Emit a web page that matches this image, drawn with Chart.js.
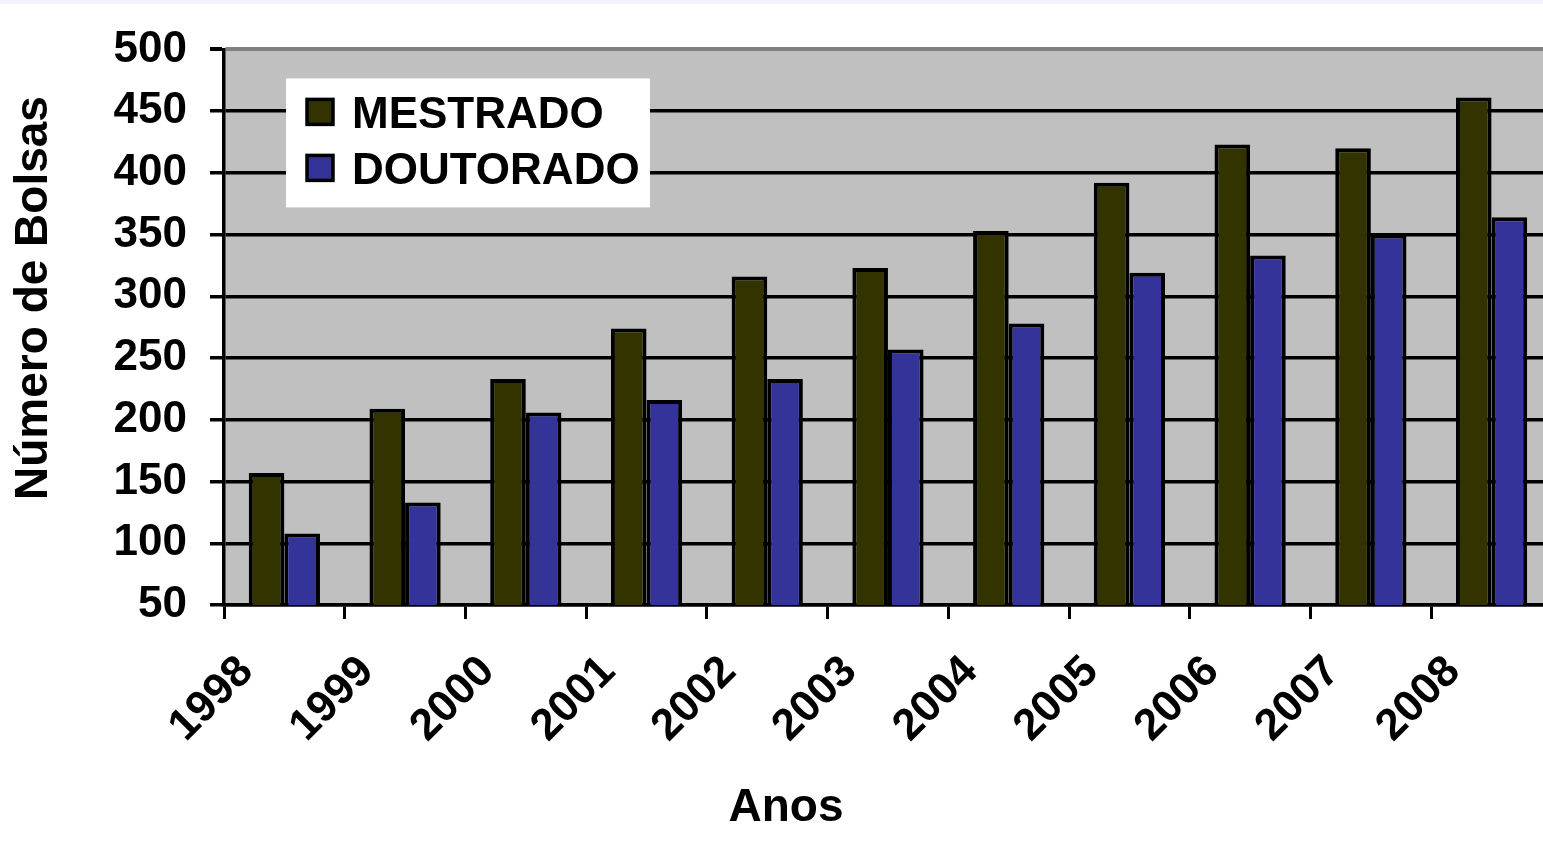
<!DOCTYPE html>
<html>
<head>
<meta charset="utf-8">
<script src="https://cdn.jsdelivr.net/npm/chart.js@4.4.0/dist/chart.umd.min.js"></script>
<style>
    html, body { margin: 0; padding: 0; background: #ffffff; overflow: hidden; }
    #strip { position: absolute; left: 0; top: 0; width: 1543px; height: 4px; background: #f2f3fb; }
    canvas { display: block; }
</style>
</head>
<body>
<div id="strip"></div>
<canvas id="bolsasChart" width="1556" height="853"></canvas>
<script>
// Datas
const anos = ['1998', '1999', '2000', '2001', '2002', '2003', '2004', '2005', '2006', '2007', '2008']
const mestrado = [157, 209, 233, 274, 316, 323, 353, 392, 423, 420, 461]
const doutorado = [108, 133, 206, 216, 233, 257, 278, 319, 333, 350, 364]
const yMin = 50
const yMax = 500
const yStep = 50

const fontFamily = '"Liberation Sans", Arial, sans-serif'

// Plot area background (gray like the old Excel charts)
const plotBackground = {
    id: 'plotBackground',
    beforeDraw: (chart) => {
        const { ctx, chartArea } = chart
        ctx.save()
        ctx.fillStyle = '#c0c0c0'
        ctx.fillRect(chartArea.left, chartArea.top, chartArea.right - chartArea.left, chartArea.bottom - chartArea.top)
        ctx.restore()
    }
}

// Legend box inside the plot + axis titles
const extras = {
    id: 'extras',
    afterDraw: (chart) => {
        const { ctx, chartArea } = chart
        ctx.save()

        const boxX = chartArea.left + 62
        const boxY = chartArea.top + 29
        ctx.fillStyle = '#ffffff'
        ctx.fillRect(boxX, boxY, 364, 129)

        ctx.font = `bold 44px ${fontFamily}`
        ctx.textAlign = 'left'
        ctx.textBaseline = 'alphabetic'
        chart.data.datasets.forEach((ds, i) => {
            const sy = boxY + 20 + i * 56
            ctx.fillStyle = ds.backgroundColor
            ctx.fillRect(boxX + 21, sy + 1, 26, 25)
            ctx.lineWidth = 3.5
            ctx.strokeStyle = '#000000'
            ctx.strokeRect(boxX + 21, sy + 1, 26, 25)
            ctx.fillStyle = '#000000'
            ctx.fillText(ds.label, boxX + 66, sy + 30)
        })

        ctx.font = `bold 46px ${fontFamily}`
        ctx.textAlign = 'center'
        ctx.textBaseline = 'middle'
        ctx.fillText('Anos', 786, 808)

        ctx.translate(34, 298)
        ctx.rotate(-Math.PI / 2)
        ctx.fillText('Número de Bolsas', 0, 0)
        ctx.restore()
    }
}

const render = () => {
    const bolsasChart = new Chart(
        document.getElementById('bolsasChart'),
        {
            type: 'bar',
            data: {
                labels: anos,
                datasets: [{
                    label: 'MESTRADO',
                    backgroundColor: '#333300',
                    borderColor: '#000000',
                    borderWidth: 4,
                    data: mestrado,
                }, {
                    label: 'DOUTORADO',
                    backgroundColor: '#333399',
                    borderColor: '#000000',
                    borderWidth: 4,
                    data: doutorado,
                }],
            },
            options: {
                responsive: false,
                animation: false,
                categoryPercentage: 0.59,
                barPercentage: 1.0,
                layout: { padding: { top: 48, left: 0, right: 2, bottom: 0 } },
                plugins: {
                    legend: { display: false },
                    tooltip: { enabled: false },
                },
                scales: {
                    x: {
                        grid: {
                            offset: true,
                            drawOnChartArea: false,
                            drawTicks: true,
                            tickLength: 14,
                            color: '#000000',
                            lineWidth: 3,
                        },
                        border: { display: true, color: '#000000', width: 3.5 },
                        ticks: {
                            autoSkip: false,
                            minRotation: 45,
                            maxRotation: 45,
                            labelOffset: -38,
                            padding: 27,
                            color: '#000000',
                            font: { family: fontFamily, size: 44, weight: 'bold' },
                        },
                        afterFit: (scale) => { scale.height = 248 },
                    },
                    y: {
                        min: yMin,
                        max: yMax,
                        grid: {
                            color: (c) => c.tick && c.tick.value === yMax ? '#808080' : '#000000',
                            tickColor: '#000000',
                            lineWidth: (c) => c.tick && c.tick.value === yMax ? 4 : 3.5,
                            tickLength: 14,
                        },
                        border: { display: true, color: '#000000', width: 3.5 },
                        ticks: {
                            stepSize: yStep,
                            padding: 23,
                            color: '#000000',
                            font: { family: fontFamily, size: 44, weight: 'bold' },
                        },
                        afterFit: (scale) => { scale.width = 224 },
                    },
                },
            },
            plugins: [plotBackground, extras],
        }
    )
}

render()
</script>
</body>
</html>
